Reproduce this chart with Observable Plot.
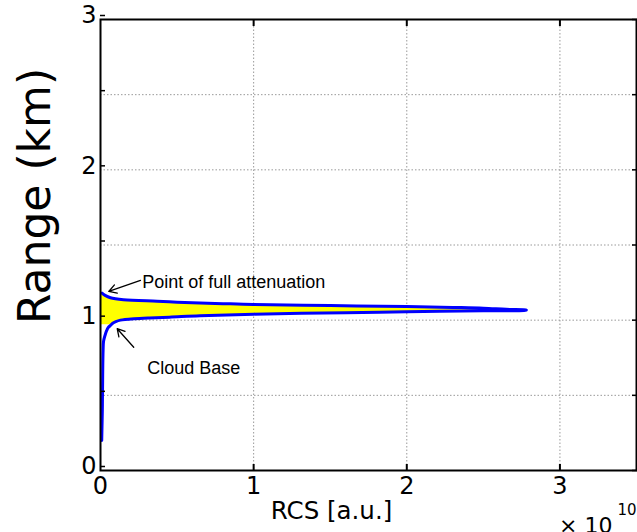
<!DOCTYPE html>
<html>
<head>
<meta charset="utf-8">
<script src="https://cdn.jsdelivr.net/npm/d3@7"></script>
<script src="https://cdn.jsdelivr.net/npm/@observablehq/plot@0.6"></script>
<style>
  html, body { margin: 0; padding: 0; background: #fff; }
</style>
</head>
<body>
<div id="chart"></div>
<script>
// Profile: range (km) vs range-corrected signal (x 1e10)
const rangeKm = [0.20, 0.30, 0.40, 0.50, 0.60, 0.70, 0.80, 0.86, 0.90, 0.93, 0.95, 0.965, 0.97, 0.98, 0.99, 1.00, 1.005, 1.01, 1.015, 1.02, 1.03, 1.04, 1.05, 1.056, 1.062, 1.066, 1.068, 1.072, 1.08, 1.085, 1.091, 1.097, 1.104, 1.11, 1.115, 1.12, 1.126, 1.136, 1.149, 1.165, 1.18];
const rcs     = [0.008, 0.010, 0.012, 0.013, 0.014, 0.015, 0.017, 0.020, 0.030, 0.040, 0.050, 0.065, 0.070, 0.080, 0.100, 0.130, 0.160, 0.220, 0.320, 0.450, 0.650, 1.000, 1.600, 2.000, 2.500, 2.780, 2.780, 2.650, 2.500, 2.300, 2.000, 1.500, 1.000, 0.800, 0.650, 0.500, 0.370, 0.150, 0.065, 0.030, 0.010];
const cloudBaseKm = 0.97;

// Axis ticks
const xTicks = [0, 1, 2, 3];
const xGrid = [1, 2, 3];
const yTicks = [0, 0.5, 1, 1.5, 2, 2.5, 3];
const yLabels = ["0", "", "1", "", "2", "", "3"];

// Annotations
const noteText = ["Point of full attenuation", "Cloud Base"];
const noteX = [0.272, 0.305];
const noteY = [1.253, 0.683];
const arrowFromX = [0.261, 0.217];
const arrowFromY = [1.264, 0.820];
const arrowToX = [0.054, 0.109];
const arrowToY = [1.191, 0.943];

const profile = rangeKm.map((r, i) => ({range: r, rcs: rcs[i]}));
const cloud = profile.filter(d => d.range >= cloudBaseKm);
const notes = noteText.map((t, i) => ({text: t, x: noteX[i], y: noteY[i], x1: arrowFromX[i], y1: arrowFromY[i], x2: arrowToX[i], y2: arrowToY[i]}));

const chart = Plot.plot({
  width: 637,
  height: 532,
  marginLeft: 100,
  marginRight: 1,
  marginTop: 19,
  marginBottom: 62,
  style: {fontFamily: "DejaVu Sans", background: "white", color: "black"},
  x: {domain: [0, 3.5]},
  y: {domain: [0, 3]},
  marks: [
    Plot.gridY(yTicks, {stroke: "#999", strokeOpacity: 1, strokeDasharray: "1.5,2"}),
    Plot.gridX(xGrid, {stroke: "#999", strokeOpacity: 1, strokeDasharray: "1.5,2"}),
    Plot.areaX(cloud, {y: "range", x: "rcs", fill: "#ffff00", curve: "catmull-rom"}),
    Plot.line(profile, {x: "rcs", y: "range", stroke: "#0000ff", strokeWidth: 3, curve: "catmull-rom"}),
    Plot.frame({stroke: "black", strokeWidth: 2}),
    Plot.axisX(xTicks, {anchor: "bottom", tickSize: 0, tickPadding: 6, fontSize: 24, tickFormat: d => String(d), label: null}),
    Plot.axisX(xGrid, {anchor: "bottom", tickSize: -6, strokeWidth: 2, tickFormat: () => "", label: null}),
    Plot.axisX(xGrid, {anchor: "top", tickSize: -6, strokeWidth: 2, tickFormat: () => "", label: null}),
    Plot.axisY(yTicks, {anchor: "left", tickSize: -5, strokeWidth: 1.5, tickPadding: 9, dy: -4, fontSize: 24, tickFormat: d => yLabels[yTicks.indexOf(d)], label: null}),
    Plot.axisY(yTicks, {anchor: "right", tickSize: -5, strokeWidth: 1.5, tickFormat: () => "", label: null}),
    Plot.arrow(notes, {x1: "x1", y1: "y1", x2: "x2", y2: "y2", stroke: "black", strokeWidth: 1.3, headLength: 10}),
    Plot.text(notes, {x: "x", y: "y", text: "text", textAnchor: "start", fontSize: 18, fontFamily: "Liberation Sans", fill: "black"}),
    Plot.text(["RCS [a.u.]"], {frameAnchor: "bottom", textAnchor: "middle", dx: -37, dy: 48, fontSize: 24.5, fill: "black"}),
    Plot.text(["Range (km)"], {frameAnchor: "left", textAnchor: "middle", dx: -65, dy: -49, rotate: -90, fontSize: 44, fill: "black"}),
    Plot.text(["× 10"], {frameAnchor: "bottom-right", textAnchor: "end", dx: -24, dy: 62, fontSize: 22, fill: "black"}),
    Plot.text(["10"], {frameAnchor: "bottom-right", textAnchor: "end", dx: 0, dy: 44, fontSize: 15, fill: "black"})
  ]
});
document.getElementById("chart").appendChild(chart);
</script>
</body>
</html>
